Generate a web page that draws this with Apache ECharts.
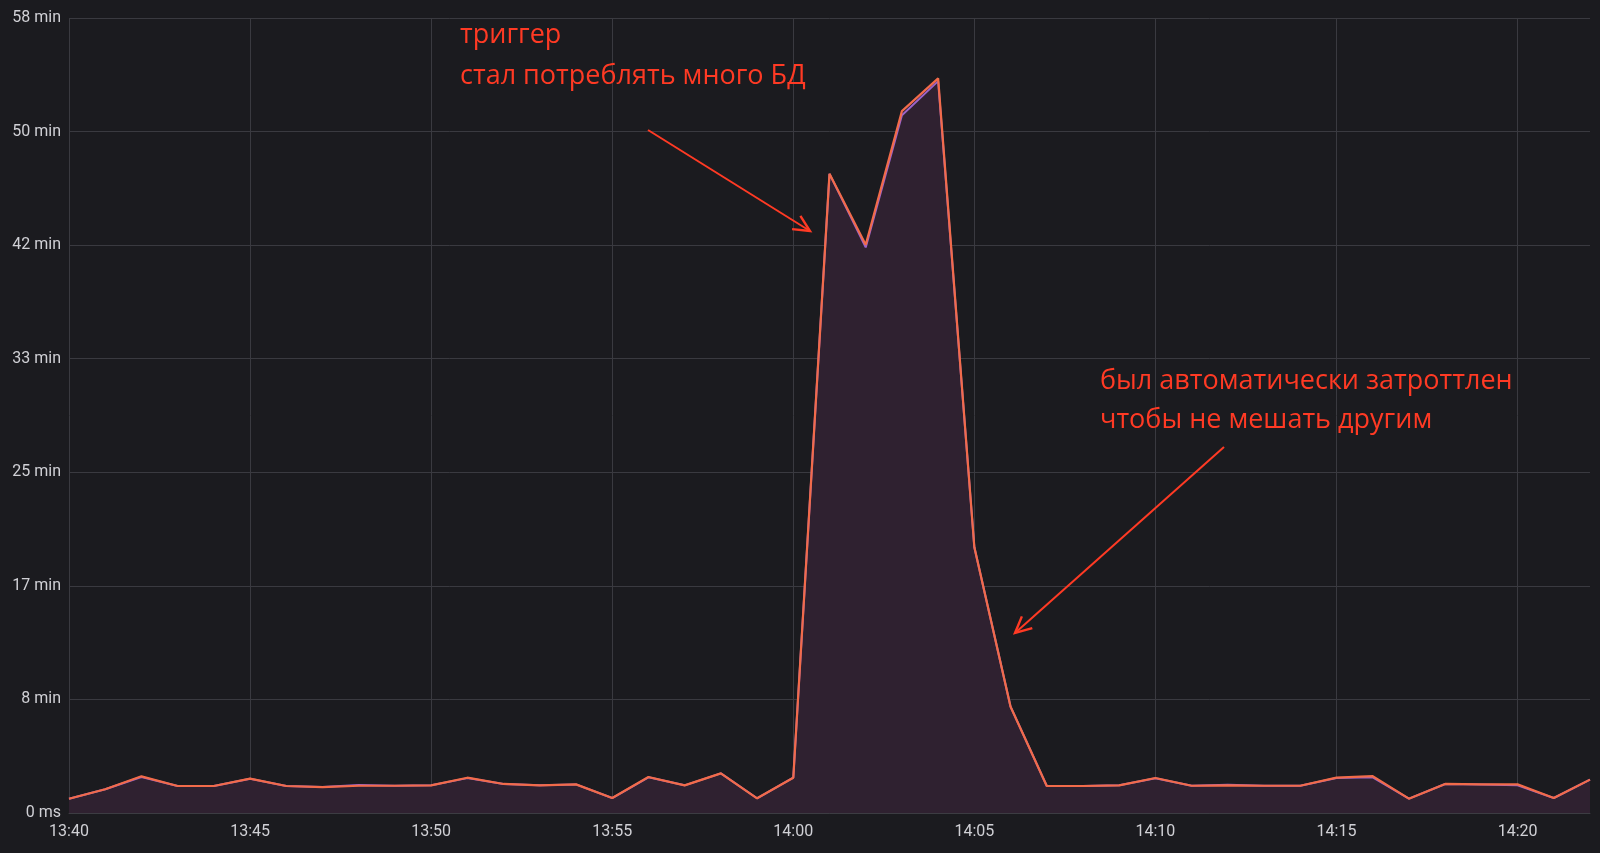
<!DOCTYPE html>
<html>
<head>
<meta charset="utf-8">
<script src="https://cdn.jsdelivr.net/npm/echarts@6/dist/echarts.min.js"></script>
<style>
html,body{margin:0;padding:0;background:#1b1b1f;}
#c{width:1600px;height:853px;}
</style>
</head>
<body>
<div id="c"></div>
<script>
// time categories, one per minute 13:40 .. 14:22
const times = ['13:40','13:41','13:42','13:43','13:44','13:45','13:46','13:47','13:48','13:49',
  '13:50','13:51','13:52','13:53','13:54','13:55','13:56','13:57','13:58','13:59',
  '14:00','14:01','14:02','14:03','14:04','14:05','14:06','14:07','14:08','14:09',
  '14:10','14:11','14:12','14:13','14:14','14:15','14:16','14:17','14:18','14:19',
  '14:20','14:21','14:22'];
// main series (minutes)
const mainMinutes = [1.05,1.74,2.69,1.98,1.98,2.52,1.98,1.9,2.0,2.0,
  2.03,2.59,2.13,2.03,2.1,1.1,2.64,2.03,2.91,1.08,
  2.59,46.9,41.7,51.5,53.9,19.5,7.8,1.98,1.98,2.03,
  2.57,2.0,2.03,2.0,2.0,2.6,2.7,1.05,2.13,2.1,
  2.1,1.1,2.45];
// secondary (underlying) series (minutes)
const secondMinutes = [1.05,1.74,2.64,1.98,1.98,2.52,1.98,1.9,2.06,2.0,
  2.03,2.56,2.13,2.03,2.1,1.1,2.62,2.03,2.91,1.08,
  2.59,46.9,41.5,51.2,53.7,19.5,7.8,1.98,1.98,2.03,
  2.55,2.0,2.08,2.0,2.0,2.57,2.62,1.05,2.13,2.1,
  2.03,1.1,2.45];
const yMaxSeconds = 3500;
const yStepSeconds = 500;

const chart = echarts.init(document.getElementById('c'));
const red = '#ff3a24';
function arrow(x1,y1,x2,y2){
  const a = Math.atan2(y2-y1, x2-x1);
  const L = 18, w = 0.45;
  const p1 = [x2 - L*Math.cos(a-w), y2 - L*Math.sin(a-w)];
  const p2 = [x2 - L*Math.cos(a+w), y2 - L*Math.sin(a+w)];
  return [
    {type:'line', shape:{x1:x1,y1:y1,x2:x2,y2:y2}, style:{stroke:red,lineWidth:2}, z:100},
    {type:'polyline', shape:{points:[p1,[x2,y2],p2]}, style:{stroke:red,lineWidth:2.4,fill:null}, z:100}
  ];
}
function txt(s,x,y){
  return {type:'text', x:x, y:y, z:100,
    style:{text:s, fill:red, font:'27px "Open Sans", "Noto Sans", sans-serif', verticalAlign:'middle', align:'left'}};
}
chart.setOption({
  backgroundColor:'#1b1b1f',
  animation:false,
  grid:{left:69,right:10,top:18,bottom:40},
  xAxis:{
    type:'category', data:times, boundaryGap:false,
    axisLine:{lineStyle:{color:'#3c3c42',width:1}},
    axisTick:{show:false},
    axisLabel:{interval:4,color:'#d0d0d5',fontSize:16,fontFamily:'Roboto, sans-serif',margin:11},
    splitLine:{show:true,interval:4,lineStyle:{color:'#3a3a40',width:1}}
  },
  yAxis:{
    type:'value', min:0, max:yMaxSeconds, interval:yStepSeconds,
    axisLine:{show:false}, axisTick:{show:false},
    axisLabel:{color:'#d0d0d5',fontSize:16,fontFamily:'Roboto, sans-serif',margin:8,
      formatter:v=> v===0 ? '0 ms' : Math.round(v/60)+' min'},
    splitLine:{lineStyle:{color:'#3a3a40',width:1}}
  },
  series:[
    {type:'line', data:secondMinutes.map(v=>v*60), symbol:'none', z:2,
     lineStyle:{color:'#9b63c9',width:2}, itemStyle:{color:'#9b63c9'},
     areaStyle:{color:'#2f2130',opacity:1}},
    {type:'line', data:mainMinutes.map(v=>v*60), symbol:'none', z:3,
     lineStyle:{color:'#f26b4a',width:2.2}, itemStyle:{color:'#f26b4a'}}
  ],
  graphic:[
    txt('триггер',460,35),
    txt('стал потреблять много БД',460,76),
    txt('был автоматически затроттлен',1100,381),
    txt('чтобы не мешать другим',1100,420)
  ].concat(arrow(648,130,810,231)).concat(arrow(1224,447,1015,633))
});
</script>
</body>
</html>
